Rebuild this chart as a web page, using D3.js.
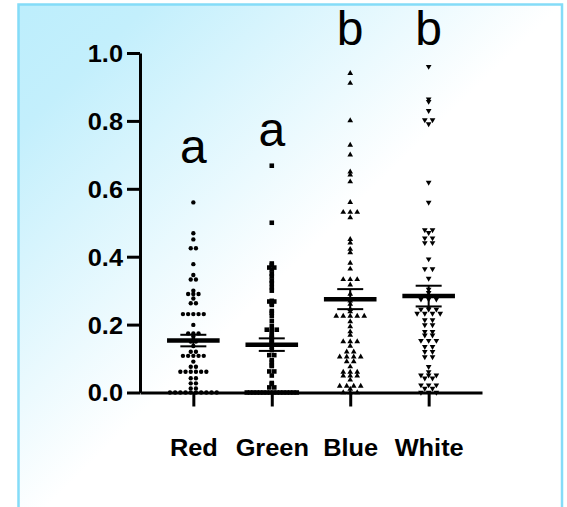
<!DOCTYPE html>
<html>
<head>
<meta charset="utf-8">
<script src="https://cdn.jsdelivr.net/npm/d3@7"></script>
<style>
  html, body { margin: 0; padding: 0; background: #fff; }
  svg { display: block; }
</style>
</head>
<body>
<div id="chart"></div>
<script>
///// Data

let groups = ["Red", "Green", "Blue", "White"];

let red = [0.560, 0.469, 0.451, 0.425, 0.425, 0.378, 0.346, 0.333, 0.333, 0.300,
    0.290, 0.290, 0.290, 0.277, 0.263, 0.263, 0.231, 0.231, 0.231, 0.231, 0.231,
    0.199, 0.174, 0.174, 0.174, 0.165, 0.155, 0.150, 0.150, 0.137, 0.120, 0.120,
    0.108, 0.108, 0.108, 0.108, 0.108, 0.091, 0.076, 0.076,
    0.061, 0.061, 0.061, 0.061, 0.061, 0.061, 0.042, 0.042, 0.027, 0.027, 0.012, 0.012,
    0, 0, 0, 0, 0, 0, 0, 0, 0, 0];

let green = [0.668, 0.500, 0.380, 0.375, 0.368, 0.368, 0.362, 0.350, 0.342, 0.330,
    0.322, 0.310, 0.300, 0.270, 0.268, 0.268, 0.262, 0.258, 0.240, 0.235, 0.225,
    0.210, 0.195, 0.185, 0.185, 0.185, 0.180, 0.170, 0.165, 0.160, 0.155, 0.150,
    0.145, 0.140, 0.135, 0.125, 0.110, 0.110, 0.095, 0.090, 0.080, 0.078,
    0.062, 0.062, 0.050, 0.028, 0.025, 0.015, 0.015,
    0, 0, 0, 0, 0, 0, 0, 0, 0, 0, 0, 0, 0, 0, 0, 0];

let blue = [0.940, 0.911, 0.801, 0.729, 0.700, 0.650, 0.641, 0.621, 0.560,
    0.531, 0.531, 0.531, 0.515, 0.451, 0.441, 0.422, 0.412, 0.381, 0.364,
    0.333, 0.333, 0.333, 0.317, 0.290, 0.270, 0.260, 0.245, 0.238,
    0.225, 0.225, 0.225, 0.225, 0.225, 0.209, 0.194, 0.179, 0.169,
    0.150, 0.150, 0.150, 0.137, 0.120, 0.120, 0.105, 0.105, 0.105, 0.105,
    0.091, 0.091, 0.076, 0.060, 0.060, 0.060, 0.049, 0.049, 0.049, 0.037,
    0.019, 0.019, 0.019, 0.019, 0.010, 0, 0, 0];

let white = [0.960, 0.864, 0.857, 0.830, 0.803, 0.803, 0.791, 0.619, 0.560,
    0.479, 0.479, 0.471, 0.455, 0.455, 0.441, 0.441, 0.393, 0.364, 0.364, 0.336,
    0.304, 0.294, 0.275, 0.275, 0.275, 0.250, 0.245, 0.245, 0.245,
    0.233, 0.233, 0.233, 0.233, 0.214, 0.214, 0.199, 0.199, 0.179, 0.179,
    0.169, 0.169, 0.153, 0.153, 0.153, 0.135, 0.135, 0.120, 0.120, 0.105, 0.105,
    0.076, 0.061, 0.051, 0.051, 0.051, 0.042, 0.042, 0.022, 0.022, 0.022,
    0.012, 0.012, 0, 0, 0];

let series = [red, green, blue, white];

// mean and SEM of each group
let means = [0.153, 0.141, 0.275, 0.284];
let sems = [0.017, 0.0185, 0.0295, 0.0305];

// significance letters and the height they sit at
let letters = ["a", "a", "b", "b"];
let letterY = [0.677, 0.726, 1.024, 1.024];

let yTicks = [0, 0.2, 0.4, 0.6, 0.8, 1.0];


///// Setup

let width = 567, height = 507;
let font = "'Liberation Sans', Arial, Helvetica, sans-serif";
let stretch = 1.08;   // the labels in the original are a bit wide

let x = d3.scalePoint().domain(groups).range([140, 482]).padding(0.68);
let y = d3.scaleLinear().domain([0, 1]).range([392.5, 53]);

let svg = d3.select("#chart")
    .append("svg")
    .attr("width", width)
    .attr("height", height);

// background panel with a cyan -> white gradient
let grad = svg.append("defs").append("linearGradient")
    .attr("id", "bg")
    .attr("x1", 0).attr("y1", 0)
    .attr("x2", 1).attr("y2", 1);
grad.append("stop").attr("offset", 0).attr("stop-color", "#bdeefc");
grad.append("stop").attr("offset", 0.12).attr("stop-color", "#c3effc");
grad.append("stop").attr("offset", 0.5).attr("stop-color", "#ffffff");
grad.append("stop").attr("offset", 1).attr("stop-color", "#ffffff");

svg.append("rect")
    .attr("x", 18.5)
    .attr("y", 4.5)
    .attr("width", 543.5)
    .attr("height", 530)
    .attr("fill", "url(#bg)")
    .attr("stroke", "#84dcf8")
    .attr("stroke-width", 2.5);


///// Axes

let yAxis = svg.append("g")
    .attr("transform", "translate(140,0)")
    .call(d3.axisLeft(y)
        .tickValues(yTicks)
        .tickFormat(d3.format(".1f"))
        .tickSize(13)
        .tickSizeOuter(0)
        .tickPadding(4));

yAxis.attr("font-family", font).attr("font-size", 23.5).attr("font-weight", "bold");
yAxis.select(".domain").attr("stroke-width", 3).attr("stroke", "#000");
yAxis.selectAll(".tick line").attr("stroke-width", 3).attr("stroke", "#000");
yAxis.selectAll(".tick text")
    .attr("fill", "#000")
    .attr("dy", "0.36em")
    .attr("x", 0)
    .attr("transform", "translate(-17,0) scale(" + stretch + ",1)");

let xAxis = svg.append("g")
    .attr("transform", "translate(0," + y(0) + ")")
    .call(d3.axisBottom(x)
        .tickSize(14)
        .tickSizeOuter(0)
        .tickPadding(33));

xAxis.attr("font-family", font).attr("font-size", 23.5).attr("font-weight", "bold");
xAxis.select(".domain").attr("stroke-width", 3).attr("stroke", "#000");
xAxis.selectAll(".tick line").attr("stroke-width", 3).attr("stroke", "#000");
xAxis.selectAll(".tick text")
    .attr("fill", "#000")
    .attr("transform", "scale(" + stretch + ",1)");


///// Points

// equal values sit in one row, centred on the group; big rows get squeezed
function spread(values, step, maxWidth) {
    let out = [];
    d3.groups(values, d => d).forEach(function([v, list]) {
        let n = list.length;
        let w = Math.min(step * (n - 1), maxWidth);
        list.forEach(function(d, i) {
            out.push({ value: v, dx: n > 1 ? i * w / (n - 1) - w / 2 : 0 });
        });
    });
    return out;
}

let shapes = [
    { type: d3.symbolCircle, size: 15, rot: 0, step: 5.2 },
    { type: d3.symbolSquare, size: 21, rot: 0, step: 5 },
    { type: d3.symbolTriangle, size: 14, rot: 0, step: 7 },
    { type: d3.symbolTriangle, size: 14, rot: 180, step: 7.7 }
];

series.forEach(function(values, gi) {
    let s = shapes[gi];
    let cx = x(groups[gi]);
    svg.append("g")
        .selectAll("path")
        .data(spread(values, s.step, 50))
        .enter()
        .append("path")
        .attr("d", d3.symbol().type(s.type).size(s.size))
        .attr("transform", function(d) {
            return "translate(" + (cx + d.dx) + "," + y(d.value) + ") rotate(" + s.rot + ")";
        })
        .attr("fill", "#000");
});


///// Mean +/- SEM

let stats = svg.append("g").attr("stroke", "#000");

groups.forEach(function(g, i) {
    let cx = x(g);
    let top = y(means[i] + sems[i]);
    let bot = y(means[i] - sems[i]);
    stats.append("line")
        .attr("x1", cx).attr("x2", cx)
        .attr("y1", top).attr("y2", bot)
        .attr("stroke-width", 2);
    [top, bot].forEach(function(yy) {
        stats.append("line")
            .attr("x1", cx - 13).attr("x2", cx + 13)
            .attr("y1", yy).attr("y2", yy)
            .attr("stroke-width", 2);
    });
    stats.append("line")
        .attr("x1", cx - 26.3).attr("x2", cx + 26.3)
        .attr("y1", y(means[i])).attr("y2", y(means[i]))
        .attr("stroke-width", 4.5);
});


///// Letters

svg.append("g")
    .selectAll("text")
    .data(letters)
    .enter()
    .append("text")
    .attr("x", function(d, i) { return x(groups[i]); })
    .attr("y", function(d, i) { return y(letterY[i]); })
    .attr("text-anchor", "middle")
    .attr("font-family", font)
    .attr("font-size", 48)
    .attr("fill", "#000")
    .text(function(d) { return d; });
</script>
</body>
</html>
